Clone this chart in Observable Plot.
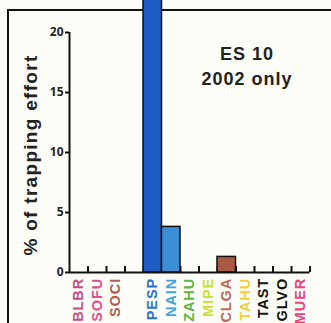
<!DOCTYPE html>
<html><head><meta charset="utf-8">
<script src="https://cdn.jsdelivr.net/npm/d3@7"></script>
<script src="https://cdn.jsdelivr.net/npm/@observablehq/plot@0.6"></script>
<style>
body{margin:0;background:#fdfdf8;font-family:"Liberation Sans",Arial,sans-serif;}
#wrap{position:relative;width:331px;height:323px;overflow:hidden;}
#box{position:absolute;left:7px;top:9px;width:330px;height:330px;border:2px solid #111;z-index:0;}
#chart{position:absolute;left:0;top:0;z-index:1;}
#title{position:absolute;left:184px;width:126px;top:42px;text-align:center;font-weight:bold;font-size:18px;line-height:25px;color:#222;z-index:2;letter-spacing:1px;}
#ylab{position:absolute;left:31px;top:155px;transform:translate(-50%,-50%) rotate(-90deg);white-space:nowrap;font-weight:bold;font-size:19px;letter-spacing:1.3px;color:#222;z-index:2;}
</style></head>
<body><div id="wrap"><div id="box"></div><div id="chart"></div>
<div id="title">ES 10<br>2002 only</div>
<div id="ylab">% of trapping effort</div></div>
<script>
const categories = ["BLBR","SOFU","SOCI","","PESP","NAIN","ZAHU","MIPE","CLGA","TAHU","TAST","GLVO","MUER"];
const values     = [0, 0, 0, 0, 25, 3.8, 0, 0, 1.3, 0, 0, 0, 0];
const labelColors = ["#c84c8c","#e0508c","#b0604c","#fff","#3070c8","#40a4dc","#60b444","#c8e034","#c06a58","#f0d040","#111","#111","#e8447c"];
const barColors = ["#fff","#fff","#fff","#fff","#1d5cc4","#3a8ed6","#fff","#fff","#a85a42","#fff","#fff","#fff","#fff"];
const yTicks = [0,5,10,15,20];

const data = categories.map((c,i)=>({c,i,v:values[i],lc:labelColors[i],bc:barColors[i]}));
const bars = data.filter(d=>d.v>0);
const labels = data.filter(d=>d.c!=="");
const boundaries = data.map(d=>d.i+0.5);

const plot = Plot.plot({
  width:331, height:323,
  marginLeft:69, marginRight:21.5, marginTop:32, marginBottom:51,
  style:{background:"transparent", overflow:"hidden"},
  x:{type:"linear", domain:[-0.5,12.5], axis:null, label:null},
  y:{type:"linear", domain:[0,20], axis:null, label:null},
  marks:[
    Plot.ruleX(boundaries,{x:d=>d,y1:d=>0,y2:d=>0.5,stroke:"#111",strokeWidth:2}),
    Plot.rectY(bars,{x1:d=>d.i-0.5,x2:d=>d.i+0.5,y1:d=>0,y2:"v",fill:d=>d.bc,stroke:"#111",strokeWidth:1.5}),
    Plot.ruleX([-0.5],{x:d=>d,y1:d=>0,y2:d=>20,stroke:"#111",strokeWidth:2}),
    Plot.ruleY([0],{y:d=>d,x1:d=>-0.5,x2:d=>12.5,stroke:"#111",strokeWidth:2}),
    Plot.axisY(yTicks,{anchor:"left",label:null,tickSize:4,tickPadding:2,fontWeight:"bold",fontSize:12,color:"#222",stroke:"#111",strokeWidth:2}),
    Plot.text(labels,{x:"i",y:d=>-0.45,text:"c",rotate:-90,textAnchor:"end",fill:"lc",fontWeight:"bold",fontSize:14.5,fontFamily:"Liberation Sans"})
  ]
});
d3.select(plot).selectAll("text").filter(function(){return (this.getAttribute("transform")||"").includes("rotate");}).style("letter-spacing","0.9px");
document.getElementById("chart").appendChild(plot);
</script></body></html>
